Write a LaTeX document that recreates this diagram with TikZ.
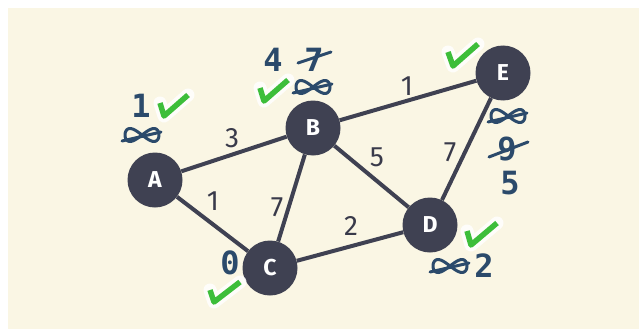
\documentclass[tikz,border=0pt]{standalone}
\usepackage{fontspec}
\setmainfont{Fira Sans}
\newfontfamily\annofont{DejaVu Sans Mono}
\definecolor{cream}{HTML}{FAF6E4}
\definecolor{slate}{HTML}{3F4152}
\definecolor{inkblue}{HTML}{2B4A6B}
\definecolor{tickgreen}{HTML}{3DBE3A}
\tikzset{
  vertex/.style={circle, fill=slate, minimum size=55pt, inner sep=0pt, text=white, font=\fontsize{23}{23}\selectfont\bfseries},
  edgeline/.style={draw=slate, line width=4pt},
  weight/.style={text=slate!90!black, font=\fontsize{28}{28}\selectfont, inner sep=1pt},
  anno/.style={text=inkblue, font=\annofont\bfseries\fontsize{32}{32}\selectfont, inner sep=0pt},
  glow/.style={draw=white, line width=13pt, line cap=round, line join=round, opacity=0.85},
  tickline/.style={draw=tickgreen, line width=5.5pt, line cap=butt, line join=round},
  strike/.style={draw=inkblue, line width=3pt, line cap=round},
  crossinf/.pic={
    \draw[inkblue, line width=3pt, smooth] plot[domain=0:360, samples=60] ({17*cos(\x)}, {6.5*sin(2*\x)});
    \draw[strike] (-20,6) -- (19,-3);
  }
}
\newcommand{\tick}[3]{\draw[glow] #1 -- #2 -- #3; \draw[tickline] #1 -- #2 -- #3;}
\begin{document}
\begin{tikzpicture}[x=1pt, y=-1pt]
\useasboundingbox (0,0) rectangle (639,329);
\fill[white] (0,0) rectangle (639,329);
\fill[cream] (8,8) rectangle (639,329);

% nodes
\node[vertex] (A) at (155,180) {A};
\node[vertex] (B) at (313,128) {B};
\node[vertex] (C) at (270,268) {C};
\node[vertex] (D) at (430,225) {D};
\node[vertex] (E) at (503,73) {E};

% edges
\draw[edgeline] (A) -- (B);
\draw[edgeline] (A) -- (C);
\draw[edgeline] (B) -- (C);
\draw[edgeline] (B) -- (D);
\draw[edgeline] (B) -- (E);
\draw[edgeline] (C) -- (D);
\draw[edgeline] (D) -- (E);

% weights
\node[weight] (wAB) at (232,138) {3};
\node[weight] (wAC) at (213,201) {1};
\node[weight] (wBC) at (277,207) {7};
\node[weight] (wBD) at (377,157) {5};
\node[weight] (wDE) at (450,152) {7};
\node[weight] (wBE) at (407,86) {1};
\node[weight] (wCD) at (351,226) {2};

% ticks
\tick{(160,103)}{(164,116)}{(188,95)}
\tick{(260,88)}{(264,101)}{(288,80)}
\tick{(448,52)}{(453,66)}{(478,44)}
\tick{(467,231)}{(471,245)}{(497,223)}
\tick{(210,290)}{(214,302)}{(240,282)}

% annotations A
\node[anno] (a1) at (141,106) {1};
\pic at (142,135) {crossinf};
% annotations B
\node[anno] (b4) at (273,60) {4};
\node[anno] (b7) at (314,60) {7};
\draw[strike] (298,63) -- (331,52);
\pic at (313,87) {crossinf};
% annotations E
\pic at (508,116) {crossinf};
\node[anno] (e9) at (507,149) {9};
\draw[strike] (489,157) -- (528,142);
\node[anno] (e5) at (510,183) {5};
% annotations D
\pic at (450,266) {crossinf};
\node[anno] (d2) at (484,266) {2};
% annotations C
\node[anno] (c0) at (230,263) {0};
\end{tikzpicture}
\end{document}
